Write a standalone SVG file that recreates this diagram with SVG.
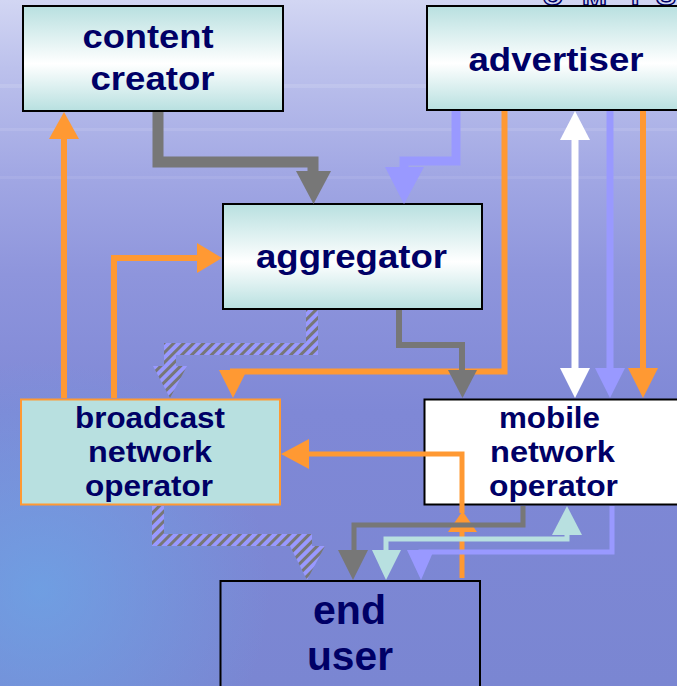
<svg xmlns="http://www.w3.org/2000/svg" width="677" height="686" viewBox="0 0 677 686">
<defs>
<linearGradient id="bg" x1="0" y1="0" x2="0" y2="1">
<stop offset="0" stop-color="#d2d6f3"/>
<stop offset="0.1" stop-color="#bcc1ec"/>
<stop offset="0.25" stop-color="#a2a8e4"/>
<stop offset="0.4" stop-color="#8e95dc"/>
<stop offset="0.6" stop-color="#7f88d6"/>
<stop offset="1" stop-color="#7a86d2"/>
</linearGradient>
<radialGradient id="glow" cx="40" cy="590" r="230" gradientUnits="userSpaceOnUse">
<stop offset="0" stop-color="#6aa8e8" stop-opacity="0.7"/>
<stop offset="1" stop-color="#6aa8e8" stop-opacity="0"/>
</radialGradient>
<linearGradient id="box" x1="0" y1="0" x2="0" y2="1">
<stop offset="0" stop-color="#b8e0e0"/>
<stop offset="0.55" stop-color="#ffffff"/>
<stop offset="1" stop-color="#b8e0e0"/>
</linearGradient>
<pattern id="hatch" patternUnits="userSpaceOnUse" width="7" height="7" patternTransform="rotate(45)">
<rect width="7" height="7" fill="#9999ff"/>
<rect width="3" height="7" fill="#777777"/>
</pattern>
<style>
.node rect { stroke: #000000; stroke-width: 2; }
.lbl { font-family: "Liberation Sans", Arial, sans-serif; font-weight: bold; fill: #000066; text-anchor: middle; }
.c { fill: none; stroke-linejoin: miter; stroke-linecap: butt; }
.gray { stroke: #777777; }
.purp { stroke: #9999ff; }
.orng { stroke: #ff9933; }
.wht { stroke: #ffffff; }
.teal { stroke: #b8e0e0; }
.hat { stroke: url(#hatch); }
.fgray { fill: #777777; }
.fpurp { fill: #9999ff; }
.forng { fill: #ff9933; }
.fwht { fill: #ffffff; }
.fteal { fill: #b8e0e0; }
.fhat { fill: url(#hatch); }
</style>
</defs>
<rect x="0" y="0" width="677" height="686" fill="url(#bg)"/>
<rect x="0" y="0" width="677" height="686" fill="url(#glow)"/>
<rect x="0" y="84" width="677" height="4" fill="#ffffff" opacity="0.12"/>
<rect x="0" y="128" width="677" height="3" fill="#ffffff" opacity="0.1"/>
<rect x="0" y="176" width="677" height="3" fill="#ffffff" opacity="0.08"/>

<text x="542 582 626 656" y="5" font-family="Liberation Sans, Arial, sans-serif" font-weight="bold" font-size="30" fill="none" stroke="#000066" stroke-width="1.5">UMTS</text>

<g id="content-creator" class="node">
<rect x="23" y="6" width="260" height="105" fill="url(#box)"/>
<text class="lbl" x="148" y="48" font-size="34" textLength="131" lengthAdjust="spacingAndGlyphs">content</text>
<text class="lbl" x="152.5" y="90" font-size="34" textLength="124" lengthAdjust="spacingAndGlyphs">creator</text>
</g>
<g id="advertiser" class="node">
<rect x="427" y="6" width="270" height="104" fill="url(#box)"/>
<text class="lbl" x="556" y="71" font-size="34" textLength="175" lengthAdjust="spacingAndGlyphs">advertiser</text>
</g>
<g id="aggregator" class="node">
<rect x="223" y="204" width="259" height="105" fill="url(#box)"/>
<text class="lbl" x="351.5" y="268" font-size="34" textLength="191" lengthAdjust="spacingAndGlyphs">aggregator</text>
</g>
<g id="broadcast-network-operator" class="node">
<rect x="21" y="399.5" width="259" height="105" fill="#b8e0e0" style="stroke:#ff9933"/>
<text class="lbl" x="150" y="428" font-size="29" textLength="150" lengthAdjust="spacingAndGlyphs">broadcast</text>
<text class="lbl" x="150" y="462" font-size="29" textLength="124" lengthAdjust="spacingAndGlyphs">network</text>
<text class="lbl" x="149" y="496" font-size="29" textLength="128" lengthAdjust="spacingAndGlyphs">operator</text>
</g>
<g id="mobile-network-operator" class="node">
<rect x="424.5" y="399.5" width="270" height="105" fill="#ffffff"/>
<text class="lbl" x="549.5" y="428" font-size="29" textLength="101" lengthAdjust="spacingAndGlyphs">mobile</text>
<text class="lbl" x="552.5" y="462" font-size="29" textLength="125" lengthAdjust="spacingAndGlyphs">network</text>
<text class="lbl" x="553.5" y="496" font-size="29" textLength="129" lengthAdjust="spacingAndGlyphs">operator</text>
</g>
<g id="end-user" class="node">
<rect x="220.5" y="581" width="259.5" height="120" fill="none"/>
<text class="lbl" x="349.5" y="624" font-size="40" textLength="73" lengthAdjust="spacingAndGlyphs">end</text>
<text class="lbl" x="350" y="670" font-size="40" textLength="86" lengthAdjust="spacingAndGlyphs">user</text>
</g>

<g id="connectors">
<path class="c gray" stroke-width="11" d="M158,112 V162 H313 V174"/>
<polygon class="fgray" points="296,171 331,171 313.5,204"/>
<path class="c purp" stroke-width="9" d="M456,111 V161 H404 V170"/>
<polygon class="fpurp" points="385,167 424,167 404,204"/>
<path class="c orng" stroke-width="6" d="M504.5,111 V371.5 H233 V372"/>
<polygon class="forng" points="219,370 247,370 233,398"/>
<path class="c wht" stroke-width="7" d="M575,138 V370"/>
<polygon class="fwht" points="560,140 590,140 575,111"/>
<polygon class="fwht" points="560,368 590,368 575,398"/>
<path class="c purp" stroke-width="7" d="M610,111 V370"/>
<polygon class="fpurp" points="595,368 625,368 610,398"/>
<path class="c orng" stroke-width="6" d="M643,111 V370"/>
<polygon class="forng" points="628,368 658,368 643,398"/>
<path class="c gray" stroke-width="6" d="M399,310 V345 H462 V372"/>
<polygon class="fgray" points="448,370 477,370 462.5,398"/>
<path class="c hat" stroke-width="12" d="M312,310 V349 H170 V368"/>
<polygon class="fhat" points="153,366 187,366 170,398"/>
<path class="c orng" stroke-width="6" d="M64,398 V137"/>
<polygon class="forng" points="49,139 79,139 64,112"/>
<path class="c orng" stroke-width="6" d="M114,398 V258 H199"/>
<polygon class="forng" points="197,243 197,273 222,258"/>
<path class="c orng" stroke-width="5" d="M462,578 V530"/>
<polygon class="forng" points="448,532 477,532 462.5,511"/>
<path class="c orng" stroke-width="5" d="M462,513 V454 H307"/>
<polygon class="forng" points="309,439 309,469 281,454"/>
<path class="c gray" stroke-width="5" d="M523,506 V525 H354 V552"/>
<polygon class="fgray" points="338,550 368,550 353,580"/>
<path class="c teal" stroke-width="5" d="M386,552 V539 H567 V533"/>
<polygon class="fteal" points="372,550 401,550 386,580"/>
<polygon class="fteal" points="552,535 582,535 567,506"/>
<path class="c purp" stroke-width="5" d="M612,506 V552 H421 V553"/>
<polygon class="fpurp" points="407,550 434,550 421,580"/>
<path class="c hat" stroke-width="12" d="M158,506 V540 H312"/>
<path class="c hat" stroke-width="12" d="M306,540 V550"/>
<polygon class="fhat" points="290,546 325,546 307,580"/>
</g>
</svg>
